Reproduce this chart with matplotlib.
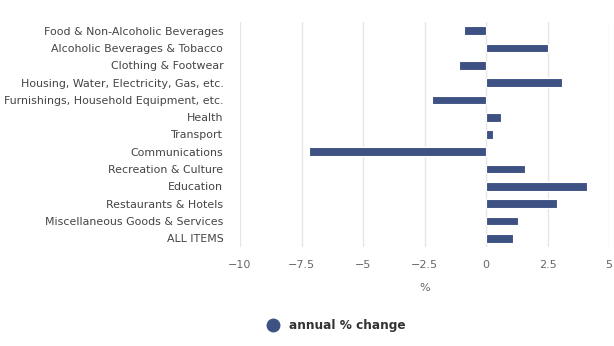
import matplotlib
matplotlib.use("Agg")
import matplotlib.pyplot as plt
from matplotlib.lines import Line2D

categories = ["Food & Non-Alcoholic Beverages", "Alcoholic Beverages & Tobacco",
              "Clothing & Footwear", "Housing, Water, Electricity, Gas, etc.",
              "Furnishings, Household Equipment, etc.", "Health", "Transport",
              "Communications", "Recreation & Culture", "Education",
              "Restaurants & Hotels", "Miscellaneous Goods & Services", "ALL ITEMS"]
values = [-0.9, 2.5, -1.1, 3.1, -2.2, 0.6, 0.3, -7.2, 1.6, 4.1, 2.9, 1.3, 1.1]
xticks = [-10, -7.5, -5, -2.5, 0, 2.5, 5]
xticklabels = ["\u221210", "\u22127.5", "\u22125", "\u22122.5", "0", "2.5", "5"]
series_name = "annual % change"

color = "#3d5183"
text_color = "#444444"

fig = plt.figure(figsize=(6.14, 3.46), dpi=100)
ax = fig.add_axes([240/614, 1-247/346, 369/614, 225/346])

y = list(range(len(categories)))
ax.barh(y, values, height=0.5, color=color, edgecolor="white", linewidth=0.8, zorder=3)
ax.set_ylim(len(categories)-0.5, -0.5)
ax.set_xlim(-10, 5)
ax.set_yticks(y)
ax.set_yticklabels(categories, fontsize=7.95, color=text_color)
ax.set_xticks(xticks)
ax.set_xticklabels(xticklabels, fontsize=8, color="#666666")
ax.tick_params(axis="both", length=0)
ax.tick_params(axis="y", pad=12)
ax.tick_params(axis="x", pad=9)
ax.grid(axis="x", color="#e6e6e6", linewidth=1, zorder=0)
for s in ax.spines.values():
    s.set_visible(False)
ax.set_xlabel("%", fontsize=8, color="#666666", labelpad=10)

handle = Line2D([], [], marker="o", linestyle="none", markersize=9,
                markerfacecolor=color, markeredgecolor=color)
fig.legend([handle], [series_name], loc="center", bbox_to_anchor=(333/614, 1-326/346),
           frameon=False, prop={"weight": "bold", "size": 8.7}, handletextpad=0.3,
           labelcolor="#333333")

fig.savefig("out.png", dpi=100)
